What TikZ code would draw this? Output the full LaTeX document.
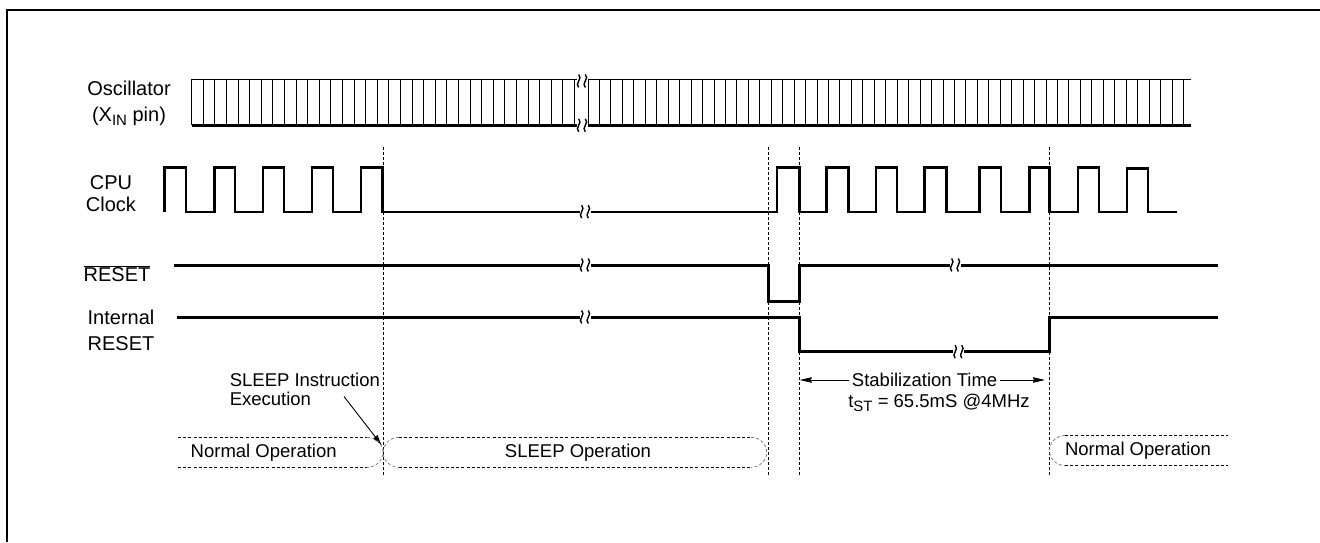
\documentclass[tikz,border=0pt]{standalone}
\usepackage{fontspec}
\setmainfont{Liberation Sans}
\usetikzlibrary{arrows.meta}
\tikzset{
  lbl/.style={font=\fontsize{20}{23}\selectfont, align=center, inner sep=0pt},
  ann/.style={font=\fontsize{18.5}{19}\selectfont, inner sep=0pt},
  wave/.style={line width=2.4pt, line join=miter},
  sig/.style={line width=3pt, line join=miter},
  vguide/.style={line width=0.8pt, dash pattern=on 3pt off 2pt},
  band/.style={line width=0.8pt, dash pattern=on 3pt off 2.2pt},
  bandend/.style={line width=0.8pt, gray, dash pattern=on 3pt off 2.2pt},
  osctick/.style={line width=0.9pt},
  brk/.pic={
    \draw[line width=1.4pt] (-3.3,-6.5) .. controls (1.2,-2.5) and (-7.8,2.5) .. (-3.3,6.5);
    \draw[line width=1.4pt] (3.3,-6.5) .. controls (7.8,-2.5) and (-1.2,2.5) .. (3.3,6.5);
  }
}
\newcommand{\mysub}[1]{\raisebox{-0.22em}{\fontsize{15}{15}\selectfont #1}}
\begin{document}
\begin{tikzpicture}[x=1pt,y=-1pt]
\useasboundingbox (0,0) rectangle (1320,542);
% frame
\draw[line width=2.2pt] (6.7,542) -- (6.7,10) -- (1320,10);

% labels
\node[lbl, font=\fontsize{20}{26}\selectfont] (osc) at (129,103) {Oscillator\\(X\mysub{IN} pin)};
\node[lbl, font=\fontsize{20}{22}\selectfont] (cpu) at (111,194) {CPU\\Clock};
\node[lbl] (rst) at (117,273.3) {$\overline{\mbox{RESET}}$};
\node[lbl, font=\fontsize{20}{26}\selectfont] (irst) at (121,330) {Internal\\RESET};

% vertical guides
\foreach \gx/\nm in {383.2/ga,768.5/gb,799.5/gc,1049.5/gd}{
  \coordinate (\nm top) at (\gx,147);
  \coordinate (\nm bot) at (\gx,476);
  \draw[vguide] (\nm top) -- (\nm bot);
}

% oscillator
\draw[line width=1pt] (191.7,79) -- (576.5,79);
\draw[line width=1pt] (587.5,79) -- (1190.7,79);
\foreach \i in {0,...,33} \draw[osctick] ({191.7+11.6*\i},79) -- ++(0,46.3);
\foreach \i in {0,...,52} \draw[osctick] ({588+11.45*\i},79) -- ++(0,46.3);
\draw[line width=3pt] (191.7,125.3) -- (576.5,125.3);
\draw[line width=3pt] (587.5,125.3) -- (1190.7,125.3);
\pic at (582,81) {brk};
\pic at (582,125.3) {brk};

% CPU clock
\draw[wave] (164.6,211.7) -- (164.6,167.5) -- (185.7,167.5) -- (185.7,211.7)
  -- (214.6,211.7) -- (214.6,167.5) -- (235,167.5) -- (235,211.7)
  -- (262.9,211.7) -- (262.9,167.5) -- (283.9,167.5) -- (283.9,211.7)
  -- (311.8,211.7) -- (311.8,167.5) -- (333.2,167.5) -- (333.2,211.7)
  -- (361,211.7) -- (361,167.5) -- (382.5,167.5) -- (382.5,211.7) -- (579.5,211.7);
\pic at (585,211.7) {brk};
\draw[wave] (590.5,211.7) -- (776.7,211.7) -- (776.7,167.5) -- (799.5,167.5) -- (799.5,211.7)
  -- (826.4,211.7) -- (826.4,167.5) -- (848.3,167.5) -- (848.3,211.7)
  -- (875.7,211.7) -- (875.7,167.5) -- (896.7,167.5) -- (896.7,211.7)
  -- (924.5,211.7) -- (924.5,167.5) -- (946.4,167.5) -- (946.4,211.7)
  -- (979.6,211.7) -- (979.6,167.5) -- (1000.7,167.5) -- (1000.7,211.7)
  -- (1029.3,211.7) -- (1029.3,167.5) -- (1049.5,167.5) -- (1049.5,211.7)
  -- (1077.7,211.7) -- (1077.7,167.5) -- (1098.7,167.5) -- (1098.7,211.7)
  -- (1126.9,211.7) -- (1126.9,168.5) -- (1148,168.5) -- (1148,211.7) -- (1176.6,211.7);

% RESET
\draw[sig] (174.3,265) -- (579.5,265);
\pic at (585,265) {brk};
\draw[sig] (590.5,265) -- (768.6,265) -- (768.6,301) -- (799.6,301) -- (799.6,265) -- (949.5,265);
\pic at (955,265) {brk};
\draw[sig] (960.5,265) -- (1217.5,265);

% Internal RESET
\draw[sig] (177,317) -- (579.5,317);
\pic at (585,317) {brk};
\draw[sig] (590.5,317) -- (799.6,317) -- (799.6,351.7) -- (953,351.7);
\pic at (958.5,351.7) {brk};
\draw[sig] (964,351.7) -- (1049.6,351.7) -- (1049.6,317) -- (1218,317);

% annotations
\node[ann, anchor=west, align=left] (sleepi) at (229.6,389.2) {SLEEP Instruction\\Execution};
\coordinate (sa) at (344,396.5);
\coordinate (sb) at (382,445.5);
\draw[line width=0.9pt, -{Latex[length=11pt,width=6pt]}] (sa) -- (sb);

\node[ann, inner xsep=3pt] (stab) at (924.6,380) {Stabilization Time};
\coordinate (stL) at (799.8,380);
\coordinate (stR) at (1045,380);
\draw[line width=0.8pt, -{Stealth[length=12pt,width=5.5pt,inset=1pt]}] (stab.west) -- (stL);
\draw[line width=0.8pt, -{Stealth[length=12pt,width=5.5pt,inset=1pt]}] (stab.east) -- (stR);
\node[ann] (tst) at (939,403) {t\mysub{ST} = 65.5mS @4MHz};

% operation bands
\draw[band] (178,437.3) -- (367,437.3);
\draw[band] (178,467.3) -- (367,467.3);
\draw[bandend] (367,437.3) arc[start angle=-90, end angle=90, x radius=16, y radius=15];
\node[ann] (n1) at (263.7,452.5) {Normal Operation};

\draw[bandend] (399,437.3) arc[start angle=270, end angle=90, x radius=15.8, y radius=15];
\draw[band] (399,437.3) -- (751,437.3);
\draw[band] (399,467.3) -- (751,467.3);
\draw[bandend] (751,437.3) arc[start angle=-90, end angle=90, x radius=15.7, y radius=15];
\node[ann] (sl) at (578,452.5) {SLEEP Operation};

\draw[bandend] (1065,435.5) arc[start angle=270, end angle=90, x radius=15.5, y radius=15];
\draw[band] (1065,435.5) -- (1228,435.5);
\draw[band] (1065,465.5) -- (1228,465.5);
\node[ann] (n2) at (1138,450.7) {Normal Operation};
\end{tikzpicture}
\end{document}
